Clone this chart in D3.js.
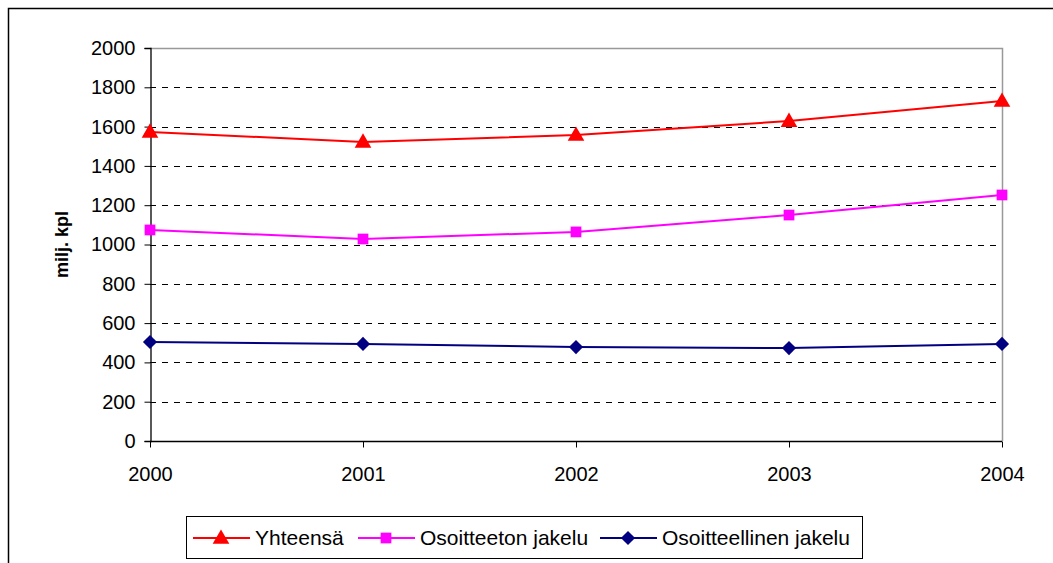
<!DOCTYPE html>
<html>
<head>
<meta charset="utf-8">
<script src="https://d3js.org/d3.v7.min.js"></script>
<style>
body { margin: 0; background: #fff; font-family: 'Liberation Sans', Arial, sans-serif; }
svg { display: block; }
</style>
</head>
<body>
<div id="chart"></div>
<script>
// data
var years = ["2000", "2001", "2002", "2003", "2004"];
var yhteensa = [1573, 1522, 1557, 1628, 1730];
var osoitteeton = [1074, 1028, 1064, 1150, 1252];
var osoitteellinen = [504, 494, 478, 473, 494];
var yTicks = [0, 200, 400, 600, 800, 1000, 1200, 1400, 1600, 1800, 2000];

var series = [
  {name: "Yhteensä", values: yhteensa, color: "#ff0000", marker: "triangle"},
  {name: "Osoitteeton jakelu", values: osoitteeton, color: "#ff00ff", marker: "square"},
  {name: "Osoitteellinen jakelu", values: osoitteellinen, color: "#000080", marker: "diamond"}
];

var W = 1053, H = 563;
var svg = d3.select("#chart").append("svg").attr("width", W).attr("height", H);

// outer frame (runs off the right / bottom edge)
svg.append("rect")
  .attr("x", 8.5).attr("y", 8.5).attr("width", 1200).attr("height", 700)
  .attr("fill", "none").attr("stroke", "#000").attr("stroke-width", 1.5);

var plotL = 150, plotR = 1002, plotT = 48, plotB = 441;

var x = d3.scalePoint().domain(years).range([plotL, plotR]);
var y = d3.scaleLinear().domain([0, 2000]).range([plotB, plotT]);

// gridlines
svg.append("g").selectAll("line")
  .data(yTicks.filter(function(d) { return d > 0 && d < 2000; }))
  .enter().append("line")
  .attr("x1", plotL).attr("x2", plotR)
  .attr("y1", function(d) { return Math.round(y(d)) + 0.5; })
  .attr("y2", function(d) { return Math.round(y(d)) + 0.5; })
  .attr("stroke", "#000").attr("stroke-dasharray", "6,6");

// gray top and right edge of the plot
svg.append("path")
  .attr("d", "M" + plotL + "," + (plotT + 0.5) + "H" + (plotR + 0.5) + "V" + plotB)
  .attr("fill", "none").attr("stroke", "#999").attr("stroke-width", 1.5);

// axes
var yAxis = svg.append("g")
  .attr("transform", "translate(" + (plotL + 0.5) + ",0)")
  .call(d3.axisLeft(y).tickValues(yTicks).tickFormat(d3.format("d")).tickSize(6).tickPadding(9));
var xAxis = svg.append("g")
  .attr("transform", "translate(0," + (plotB + 0.5) + ")")
  .call(d3.axisBottom(x).tickSize(6).tickPadding(19));

[yAxis, xAxis].forEach(function(a) {
  a.select(".domain").attr("stroke", "#000").attr("stroke-width", 1.3);
  a.selectAll(".tick line").attr("stroke", "#000");
  a.selectAll("text").attr("fill", "#000")
    .style("font-family", "'Liberation Sans', Arial, sans-serif").style("font-size", "20px");
});
xAxis.select(".domain").attr("d", "M" + plotL + ",0H" + plotR);

svg.append("text")
  .attr("transform", "translate(68," + ((plotT + plotB) / 2) + ") rotate(-90)")
  .attr("text-anchor", "middle")
  .style("font-size", "18px").style("font-weight", "bold")
  .text("milj. kpl");

var symbols = {
  triangle: d3.symbol().type(d3.symbolTriangle).size(120),
  square: d3.symbol().type(d3.symbolSquare).size(115),
  diamond: d3.symbol().type(d3.symbolSquare).size(100)
};
function markerTransform(m, px, py) {
  if (m == "triangle") return "translate(" + px + "," + (py + 1) + ")";
  if (m == "diamond") return "translate(" + px + "," + py + ") rotate(45)";
  return "translate(" + px + "," + py + ")";
}

var line = d3.line()
  .x(function(d, i) { return x(years[i]); })
  .y(function(d) { return y(d); });

series.forEach(function(s) {
  svg.append("path").datum(s.values)
    .attr("d", line).attr("fill", "none")
    .attr("stroke", s.color).attr("stroke-width", 2);
  svg.append("g").selectAll("path")
    .data(s.values).enter().append("path")
    .attr("d", symbols[s.marker])
    .attr("transform", function(d, i) { return markerTransform(s.marker, x(years[i]), y(d)); })
    .attr("fill", s.color);
});

// legend
var legend = svg.append("g");
legend.append("rect")
  .attr("x", 186.5).attr("y", 516.5).attr("width", 676).attr("height", 42)
  .attr("fill", "#fff").attr("stroke", "#000").attr("stroke-width", 1);

var legendX = [193, 358, 600];
series.forEach(function(s, i) {
  var lx = legendX[i], ly = 538;
  legend.append("line")
    .attr("x1", lx).attr("x2", lx + 57).attr("y1", ly).attr("y2", ly)
    .attr("stroke", s.color).attr("stroke-width", 2);
  legend.append("path")
    .attr("d", symbols[s.marker])
    .attr("transform", markerTransform(s.marker, lx + 28, ly))
    .attr("fill", s.color);
  legend.append("text")
    .attr("x", lx + 62).attr("y", ly + 7)
    .style("font-size", "21px")
    .text(s.name);
});
</script>
</body>
</html>
